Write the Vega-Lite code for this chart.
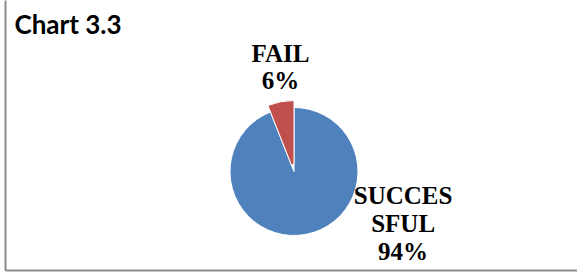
{
  "$schema": "https://vega.github.io/schema/vega-lite/v6.json",
  "autosize": "none",
  "width": 578,
  "height": 343,
  "padding": {"left": 5, "top": 0, "right": 0, "bottom": 0},
  "background": "white",
  "config": {"view": {"stroke": null}},
  "data": {"values": [
    {"category": "SUCCESSFUL", "pct": 94},
    {"category": "FAIL", "pct": 6}
  ]},
  "transform": [
    {"calculate": "replace(datum.category, regexp('^(.{6})(.+)$'), '$1\\n$2') + '\\n' + datum.pct + '%'", "as": "label"}
  ],
  "layer": [
    {
      "mark": {"type": "point", "opacity": 0},
      "encoding": {
        "x": {"field": "pct", "type": "quantitative",
          "axis": {"orient": "bottom", "offset": -73, "domainColor": "#8c8c8c", "domainWidth": 2, "ticks": false, "labels": false, "grid": false, "title": null}},
        "y": {"field": "pct", "type": "quantitative", "scale": {"range": [270, 0]},
          "axis": {"domainColor": "#8c8c8c", "domainWidth": 2, "ticks": false, "labels": false, "grid": false,
            "title": "Chart 3.3", "titleAngle": 0, "titleX": 9, "titleY": 33, "titleAlign": "left", "titleBaseline": "alphabetic",
            "titleFont": "Lato", "titleFontSize": 26, "titleFontWeight": "bold", "titleColor": "black"}}
      }
    },
    {
      "mark": {"type": "arc", "radius": 64, "stroke": "white", "strokeWidth": 1},
      "encoding": {
        "theta": {"field": "pct", "type": "quantitative", "stack": true},
        "order": {"field": "pct", "sort": "descending"},
        "color": {"field": "category", "type": "nominal", "scale": {"domain": ["SUCCESSFUL", "FAIL"], "range": ["#4F81BD", "#C0504D"]}, "legend": null},
        "opacity": {"condition": {"test": "datum.category === 'FAIL'", "value": 0}, "value": 1}
      }
    },
    {
      "mark": {"type": "arc", "radius": 71, "radius2": 7, "stroke": "white", "strokeWidth": 1},
      "encoding": {
        "theta": {"field": "pct", "type": "quantitative", "stack": true},
        "order": {"field": "pct", "sort": "descending"},
        "color": {"field": "category", "type": "nominal", "legend": null},
        "opacity": {"condition": {"test": "datum.category === 'FAIL'", "value": 1}, "value": 0}
      }
    },
    {
      "mark": {"type": "text", "radius": 120, "dx": 9, "font": "Liberation Serif", "fontSize": 25, "fontWeight": "bold", "lineBreak": "\n", "lineHeight": 27, "align": "center", "baseline": "middle", "color": "black"},
      "encoding": {
        "theta": {"field": "pct", "type": "quantitative", "stack": true},
        "order": {"field": "pct", "sort": "descending"},
        "text": {"field": "label"},
        "opacity": {"condition": {"test": "datum.category === 'FAIL'", "value": 1}, "value": 0}
      }
    },
    {
      "mark": {"type": "text", "radius": 70, "dx": 96, "dy": -44, "font": "Liberation Serif", "fontSize": 25, "fontWeight": "bold", "lineBreak": "\n", "lineHeight": 28, "align": "center", "baseline": "middle", "color": "black"},
      "encoding": {
        "theta": {"field": "pct", "type": "quantitative", "stack": true},
        "order": {"field": "pct", "sort": "descending"},
        "text": {"field": "label"},
        "opacity": {"condition": {"test": "datum.category === 'SUCCESSFUL'", "value": 1}, "value": 0}
      }
    }
  ]
}
